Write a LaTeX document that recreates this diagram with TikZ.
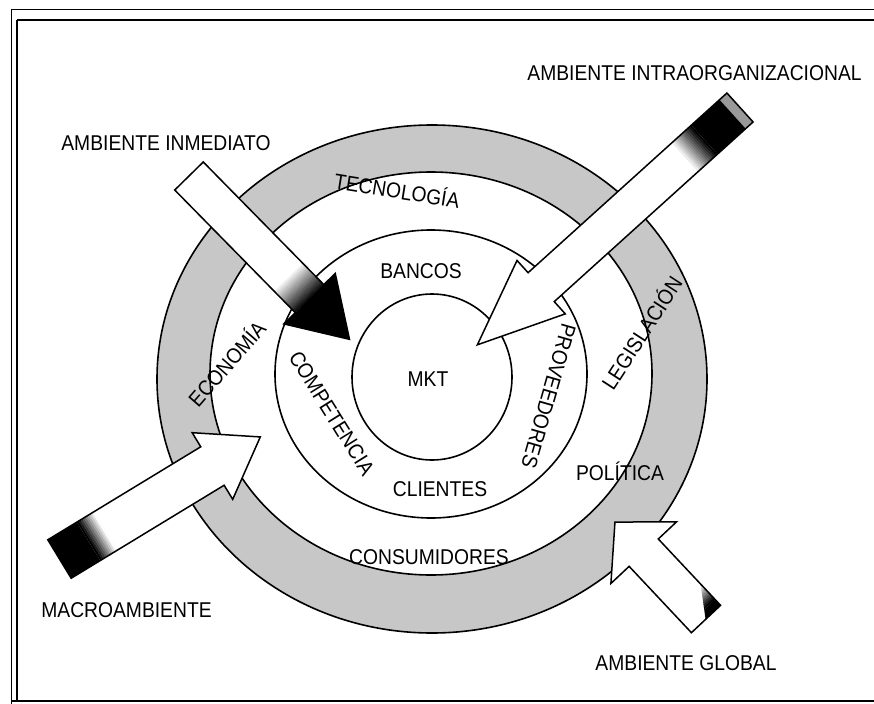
\documentclass[tikz,border=0pt]{standalone}
\usepackage{fontspec}
\setmainfont[FakeStretch=0.9]{Liberation Sans}
\usetikzlibrary{shapes.geometric}
\definecolor{ringgray}{gray}{0.78}
\begin{document}
\begin{tikzpicture}[x=1bp,y=-1bp,
  lab/.style={font=\fontsize{21.5}{24}\selectfont, inner sep=0pt, text height=15.4bp, text depth=0bp},
  ringline/.style={line width=1.6bp},
  arrowline/.style={line width=1.5bp, line join=miter},
  framethin/.style={line width=0.9bp},
  framethick/.style={line width=2bp}]
\useasboundingbox (0,0) rectangle (874,704);
\fill[white] (0,0) rectangle (874,704);
% frame
\draw[framethin] (11,9) -- (874,9);
\draw[framethin] (11,9) -- (11,704);
\draw[framethick] (17,20) -- (874,20);
\draw[framethick] (17,20) -- (17,701);
\draw[framethick] (11,701) -- (874,701);
% gray ring
\fill[ringgray, even odd rule] (432,379) ellipse [x radius=275, y radius=254]
      (431,373.5) ellipse [x radius=221, y radius=201.5];
\draw[ringline] (432,379) ellipse [x radius=275, y radius=254];
\draw[ringline] (431,373.5) ellipse [x radius=221, y radius=201.5];
% middle ring
\draw[ringline] (431,374) ellipse [x radius=156, y radius=144];
% inner circle
\node[ellipse, draw, ringline, minimum width=160bp, minimum height=166bp, inner sep=0pt] (core) at (432,377) {};
% texts
\node[lab] (mkt) at (428,379) {MKT};
\node[lab] (bancos) at (421,271) {BANCOS};
\node[lab] (clientes) at (440,488.5) {CLIENTES};
\node[lab] (consum) at (429,557) {CONSUMIDORES};
\node[lab] (politica) at (620,472.5) {POLÍTICA};
\node[lab, rotate=-9] (tecno) at (397,191) {TECNOLOGÍA};
\node[lab, rotate=49] (econo) at (227,364) {ECONOMÍA};
\node[lab, rotate=-58] (compe) at (332,413) {COMPETENCIA};
\node[lab, rotate=-106] (prove) at (549,396) {PROVEEDORES};
\node[lab, rotate=57] (legis) at (642,333) {LEGISLACIÓN};
\node[lab] (intra) at (694.5,73) {AMBIENTE INTRAORGANIZACIONAL};
\node[lab] (inmed) at (166,143) {AMBIENTE INMEDIATO};
\node[lab] (macro) at (126.5,610) {MACROAMBIENTE};
\node[lab] (global) at (686,663) {AMBIENTE GLOBAL};
% arrow: ambiente inmediato
\begin{scope}[shift={(189,176)}, rotate=-45.5]
  \def\shpA{(0,-20) -- (172,-20) -- (172,-36) -- (229,0) -- (172,36) -- (172,20) -- (0,20) -- cycle}
  \begin{scope}
    \clip \shpA;
    \fill[white] (-2,-40) rectangle (232,40);
    \foreach \k [evaluate=\k as \pc using \k*6.25, evaluate=\k as \xa using 140+\k*2] in {0,...,15}
      {\fill[black!\pc] (\xa,-40) rectangle (\xa+2.3,40);}
    \fill[black] (172,-40) rectangle (232,40);
  \end{scope}
  \draw[arrowline] \shpA;
\end{scope}
% arrow: ambiente intraorganizacional
\begin{scope}[shift={(740,107.5)}, rotate=-137.9]
  \def\shpB{(0,-19.5) -- (268,-19.5) -- (268,-36) -- (354,0) -- (268,36) -- (268,19.5) -- (0,19.5) -- cycle}
  \begin{scope}
    \clip \shpB;
    \fill[white] (-2,-40) rectangle (358,40);
    \fill[black!40] (-2,-40) rectangle (10,40);
    \fill[black] (10,-40) rectangle (48,40);
    \foreach \k [evaluate=\k as \pc using 100-\k*7.7, evaluate=\k as \xa using 48+\k*2] in {0,...,12}
      {\fill[black!\pc] (\xa,-40) rectangle (\xa+2.3,40);}
  \end{scope}
  \draw[arrowline] \shpB;
\end{scope}
% arrow: macroambiente
\begin{scope}[shift={(59.5,559)}, rotate=31.3]
  \def\shpC{(0,-22.5) -- (179,-22.5) -- (179,-39) -- (235,0) -- (179,39) -- (179,22.5) -- (0,22.5) -- cycle}
  \begin{scope}
    \clip \shpC;
    \fill[white] (-2,-45) rectangle (238,45);
    \fill[black] (-2,-45) rectangle (34,45);
    \foreach \k [evaluate=\k as \pc using 100-\k*11, evaluate=\k as \xa using 34+\k*2] in {0,...,9}
      {\fill[black!\pc] (\xa,-45) rectangle (\xa+2.3,45);}
  \end{scope}
  \draw[arrowline] \shpC;
\end{scope}
% arrow: ambiente global
\begin{scope}[shift={(706,619)}, rotate=133.2]
  \def\shpD{(0,-20) -- (91,-20) -- (91,-45) -- (133,0) -- (91,45) -- (91,20) -- (0,20) -- cycle}
  \begin{scope}
    \clip \shpD;
    \fill[white] (-2,-50) rectangle (136,50);
    \clip (-2,22) -- (-2,-2) -- (32,22) -- cycle;
    \fill[black] (-2,-50) rectangle (8,50);
    \foreach \k [evaluate=\k as \pc using 100-\k*10, evaluate=\k as \xa using 8+\k*2] in {0,...,10}
      {\fill[black!\pc] (\xa,-50) rectangle (\xa+2.3,50);}
  \end{scope}
  \draw[arrowline] \shpD;
\end{scope}
\end{tikzpicture}
\end{document}
